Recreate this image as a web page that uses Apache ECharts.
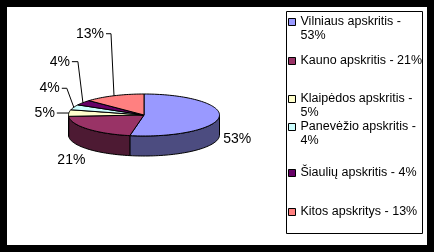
<!DOCTYPE html>
<html><head><meta charset="utf-8">
<script src="https://cdn.jsdelivr.net/npm/echarts@6/dist/echarts.min.js"></script>
<style>html,body{margin:0;padding:0;background:#000}#c{width:434px;height:252px}</style>
</head><body><div id="c"></div>
<script>
// ---- data ----
const categories = ['Vilniaus apskritis','Kauno apskritis','Klaipėdos apskritis','Panevėžio apskritis','Šiaulių apskritis','Kitos apskritys'];
const values = [53, 21, 5, 4, 4, 13];
const pieLabels = ['53%','21%','5%','4%','4%','13%'];
const legendLabels = ['Vilniaus apskritis -\n53%','Kauno apskritis - 21%','Klaipėdos apskritis -\n5%','Panevėžio apskritis -\n4%','Šiaulių apskritis - 4%','Kitos apskritys - 13%'];

// ---- styles / layout ----
const topColors  = ['#9999FF','#993366','#FFFFCC','#CCFFFF','#660066','#FF8080'];
const sideColors = ['#4C4C80','#4D1A33','#808066','#668080','#330033','#804040'];
const CX = 144, CY = 115, RX = 75.5, RY = 21, DEPTH = 20;
// label placement per slice (relative to the slice's mid point on the rim)
const labelLayout = [
  {dx: 4, dy: 22, align: 'left'},
  {dx: -16, dy: 31, align: 'center'},
  {elbow: [-12, 0], hx: 0},
  {elbow: [-7, -19], hx: 5},
  {elbow: [-5, -41], hx: 6},
  {elbow: [-3, -62], hx: 5}
];
const legendCenters = [22, 61, 99, 127, 173, 212];
const FONT = '"Liberation Sans", Arial, sans-serif';

const total = values.reduce((a, b) => a + b, 0);
const starts = [];
values.reduce((acc, v, i) => { starts[i] = acc; return acc + v; }, 0);

function pt(aDeg, dy) {
  const a = aDeg * Math.PI / 180;
  return [CX + RX * Math.sin(a), CY - RY * Math.cos(a) + (dy || 0)];
}
function arc(a0, a1, dy) {
  const n = Math.max(2, Math.ceil(Math.abs(a1 - a0) / 2));
  const out = [];
  for (let k = 0; k <= n; k++) out.push(pt(a0 + (a1 - a0) * k / n, dy));
  return out;
}

function makeRender(i) {
  return function (params, api) {
    const s = api.value(0) / total * 360;
    const e = s + api.value(1) / total * 360;
    const children = [];
    // side wall (front half only)
    const vs = Math.max(s, 90), ve = Math.min(e, 270);
    if (vs < ve) {
      const poly = arc(vs, ve, 0).concat(arc(vs, ve, DEPTH).reverse());
      children.push({type: 'polygon', z2: 1, shape: {points: poly},
        style: {fill: sideColors[i], stroke: '#000', lineWidth: 1}});
    }
    // top face
    children.push({type: 'polygon', z2: 2, shape: {points: [[CX, CY]].concat(arc(s, e, 0))},
      style: {fill: topColors[i], stroke: '#000', lineWidth: 1, lineJoin: 'round'}});
    // label
    const mid = (s + e) / 2;
    const anc = pt(mid, 0);
    const L = labelLayout[i];
    if (L.elbow) {
      const ex = anc[0] + L.elbow[0], ey = anc[1] + L.elbow[1];
      children.push({type: 'polyline', z2: 3, shape: {points: [[ex - L.hx, ey], [ex, ey], anc]},
        style: {stroke: '#000', lineWidth: 1, fill: null}});
      children.push({type: 'text', z2: 3, style: {text: pieLabels[i], x: ex - L.hx - 2, y: ey,
        align: 'right', verticalAlign: 'middle', font: '14px ' + FONT, fill: '#000'}});
    } else {
      children.push({type: 'text', z2: 3, style: {text: pieLabels[i], x: anc[0] + L.dx, y: anc[1] + L.dy,
        align: L.align, verticalAlign: 'middle', font: '14px ' + FONT, fill: '#000'}});
    }
    return {type: 'group', children: children};
  };
}

const series = categories.map((name, i) => ({
  type: 'custom', name: name, coordinateSystem: 'none',
  itemStyle: {color: topColors[i]},
  data: [[starts[i], values[i]]],
  renderItem: makeRender(i),
  silent: true, animation: false
}));

const legends = categories.map((name, i) => {
  const twoLine = legendLabels[i].indexOf('\n') >= 0;
  return {
    data: [name], left: 288,
    top: legendCenters[i] - (twoLine ? 21 : 7),
    padding: 0, itemWidth: 7, itemHeight: 7, icon: 'rect',
    itemStyle: {borderColor: '#000', borderWidth: 1},
    selectedMode: false,
    formatter: () => (twoLine ? ' \n' : '') + legendLabels[i],
    textStyle: {fontFamily: FONT, fontSize: 12.5, color: '#000', lineHeight: 14}
  };
});

const chart = echarts.init(document.getElementById('c'), null, {renderer: 'canvas'});
chart.setOption({
  backgroundColor: '#000',
  animation: false,
  graphic: [
    {type: 'rect', z: -10, shape: {x: 7, y: 7, width: 420, height: 238}, style: {fill: '#fff'}},
    {type: 'rect', z: -9, shape: {x: 286.5, y: 11.5, width: 136, height: 222}, style: {fill: '#fff', stroke: '#000', lineWidth: 1}}
  ],
  legend: legends,
  series: series
});
</script>
</body></html>
